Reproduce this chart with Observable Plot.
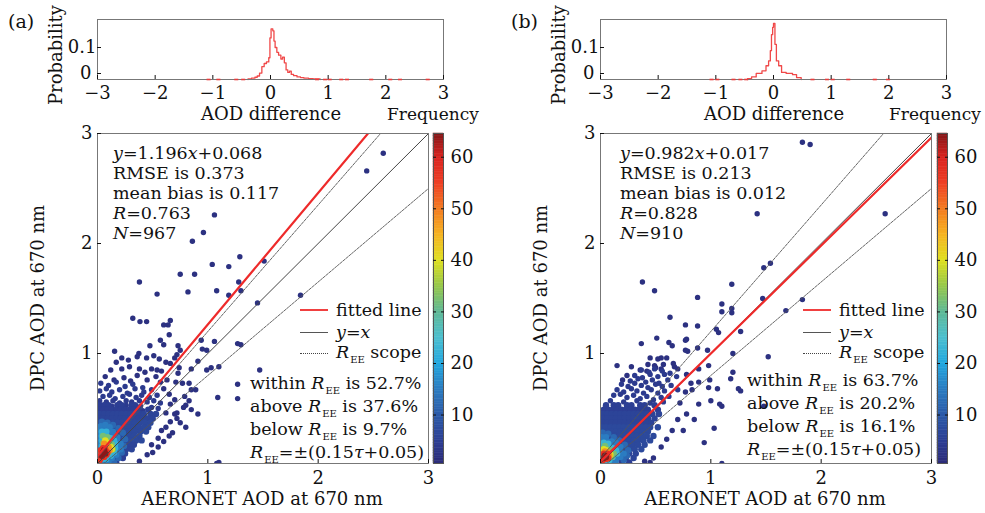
<!DOCTYPE html>
<html><head><meta charset="utf-8">
<script src="https://cdn.jsdelivr.net/npm/d3@7"></script>
<script src="https://cdn.jsdelivr.net/npm/@observablehq/plot@0.6"></script>
<style>
body{margin:0;background:#fff;}
#root{position:relative;width:985px;height:513px;overflow:hidden;font-family:"DejaVu Serif",serif;color:#111;}
#root svg{position:absolute;}
.t{position:absolute;font-size:17.5px;line-height:20px;white-space:nowrap;}
.big{font-size:18px;}
.c{transform:translate(-50%,-50%);}
.r{transform:translate(-50%,-50%) rotate(-90deg);}
.ee{font-size:10px;position:relative;top:5px;margin-left:1px;}
.lg{position:absolute;height:0;}
</style>
</head><body><div id="root"></div>
<script>
// ---------- shared scale data ----------
const colorStops = [1,5,10,15,20,25,30,35,40,45,50,55,60,65];
const colorHex = ["#2c2d7a","#2c3e94","#2b5aa8","#2b7cc1","#22a7df","#4cbfcf","#5fb996","#96c74a","#dfe020","#f6b321","#f37a20","#ee3e24","#d9231f","#7a1416"];
const colorTicks = [10,20,30,40,50,60];
const aodTicksX = [0,1,2,3];
const aodTicksY = [1,2,3];
const diffTicks = [-3,-2,-1,0,1,2,3];
const eeCoef = [0.15, 0.05];

// ---------- panel (a) ----------
const statsA = ["1.196","0.068","0.373","0.117","0.763","967"];
const fitA = [1.196, 0.068];
const eeShareA = ["52.7","37.6","9.7"];
const histEdgesA = [-0.39,-0.33,-0.27,-0.23,-0.19,-0.15,-0.11,-0.07,-0.03,-0.01,0.01,0.04,0.06,0.08,0.11,0.14,0.18,0.21,0.24,0.27,0.30,0.33,0.36,0.40,0.46,0.52,0.58,0.66,0.74,0.86];
const histProbA = [0.002,0.004,0.007,0.011,0.02,0.04,0.05,0.055,0.068,0.13,0.158,0.152,0.12,0.1,0.085,0.076,0.064,0.07,0.052,0.03,0.022,0.026,0.016,0.012,0.008,0.006,0.004,0.003,0.002];
const histTailA = [-1.1,-0.93,-0.62,-0.5,0.78,0.92,1.0,1.2,1.3,1.72,2.05,2.22,2.7];
const outA = [[2.59,2.82],[2.44,2.66],[1.06,2.26],[0.96,2.10],[0.86,2.02],[1.51,1.84],[1.29,1.88],[1.04,1.81],[1.19,1.79],[0.75,1.72],[0.88,1.72],[0.38,1.65],[1.28,1.65],[0.54,1.54],[0.82,1.56],[1.08,1.57],[1.19,1.53],[1.30,1.57],[1.84,1.53],[1.45,1.46],
[0.32,1.32],[0.385,1.29],[0.445,1.29],[0.60,1.26],[0.64,1.26],[0.66,1.30],[0.65,1.17],[0.57,1.12],[0.60,1.08],[0.475,1.07],[0.73,1.07],[0.75,1.03],[0.94,1.12],[1.06,1.11],[1.27,1.09],[1.30,1.08],
[0.155,1.02],[0.375,1.0],[0.36,0.97],[0.22,0.96],[0.28,0.94],[0.17,0.92],[0.445,0.96],[0.51,0.98],[0.56,0.95],[0.62,0.92],[0.66,0.91],[0.72,0.99],[0.70,0.96],[0.95,1.04],[0.99,1.03],[0.91,0.93],
[0.12,0.85],[0.22,0.86],[0.29,0.88],[0.38,0.86],[0.43,0.83],[0.49,0.86],[0.54,0.85],[0.58,0.84],[0.74,0.87],[0.73,0.82],[0.85,0.86],[0.99,0.85],[1.03,0.87],[1.10,0.88],[1.47,0.85],
[0.83,0.73],[0.89,0.67],[1.27,0.72],[1.09,0.60],[1.27,0.59],[0.79,0.61],[0.83,0.57],[0.80,0.53],[0.62,0.46],[0.66,0.54],[0.72,0.46],[0.85,0.49],[0.91,0.45],[0.75,0.37],[0.80,0.33],[0.72,0.41],[0.70,0.45],[0.66,0.38],[0.62,0.33],[0.58,0.30],[0.68,0.28],[0.78,0.51],[0.55,0.23],[0.49,0.17],[0.50,0.10],[1.08,0.0],[1.10,0.01],
[0.07,0.79],[0.15,0.76],[0.24,0.78],[0.30,0.75],[0.36,0.80],[0.45,0.76],[0.53,0.79],[0.57,0.74],[0.63,0.76],[0.71,0.74],[0.77,0.73],[0.85,0.67],[0.60,0.68],[0.65,0.63],[0.70,0.58],[0.60,0.20],[0.65,0.25],[0.55,0.15],[0.45,0.08],[0.38,0.02]];
const looseA = [[0.03,0.73],[0.10,0.71],[0.17,0.74],[0.25,0.70],[0.32,0.72],[0.41,0.69],[0.02,0.66],[0.08,0.68],[0.13,0.65],[0.20,0.67],[0.27,0.64],[0.34,0.68],[0.42,0.65],[0.49,0.67],[0.05,0.61],[0.11,0.62],[0.16,0.59],[0.23,0.61],[0.29,0.63],[0.35,0.60],[0.40,0.62],[0.47,0.60],[0.54,0.62],[0.02,0.57],[0.08,0.56],[0.14,0.57],[0.20,0.55],[0.26,0.57],[0.31,0.56],[0.38,0.57],[0.45,0.56],[0.51,0.57],[0.57,0.55],[0.13,0.52],[0.26,0.53],[0.39,0.52],[0.49,0.51],[0.55,0.50],[0.41,0.48]];
const massRowsA = [
[0.53,5,[0.02,0.06,0.10,0.18,0.22,0.31,0.34]],
[0.49,5,[0.01,0.05,0.09,0.13,0.17,0.21,0.25,0.29,0.33,0.37,0.46]],
[0.45,6,[0.02,0.06,0.10,0.14,0.18,0.22,0.26,0.30,0.34,0.38,0.42,0.48,0.53]],
[0.41,6,[0.01,0.05,0.09,0.13,0.17,0.21,0.25,0.29,0.33,0.37,0.41,0.45,0.50]],
[0.37,7,[0.02,0.06,0.10,0.14,0.18,0.22,0.26,0.30,0.34,0.38,0.43,0.48]],
[0.33,7,[0.01,0.05,0.09,0.13,0.17,0.21,0.25,0.29,0.33,0.37,0.42,0.46]],
[0.29,7,[0.02,0.06,0.10,0.14,0.18,0.22,0.26,0.30,0.34,0.39,0.44]],
[0.25,7,[0.01,0.05,0.09,0.13,0.17,0.21,0.25,0.29,0.33,0.38]],
[0.21,7,[0.02,0.06,0.10,0.14,0.18,0.22,0.26,0.30,0.35,0.40]],
[0.17,6,[0.01,0.05,0.09,0.13,0.17,0.21,0.25,0.29,0.33]],
[0.13,6,[0.02,0.06,0.10,0.14,0.18,0.22,0.26,0.31]],
[0.09,6,[0.01,0.05,0.09,0.13,0.17,0.21,0.25]],
[0.05,5,[0.02,0.06,0.10,0.14,0.18,0.23]],
[0.01,5,[0.03,0.07,0.12,0.17]]];
const coreA = [
[12,[[0.04,0.38],[0.09,0.37],[0.14,0.35],[0.19,0.32],[0.23,0.28],[0.25,0.22],[0.24,0.16],[0.22,0.10],[0.19,0.05],[0.15,0.01]]],
[15,[[0.03,0.34],[0.07,0.35],[0.11,0.33],[0.02,0.30],[0.06,0.30],[0.10,0.30],[0.14,0.29],[0.02,0.26],[0.06,0.26],[0.10,0.26],[0.14,0.25],[0.18,0.24],[0.02,0.22],[0.06,0.22],[0.10,0.22],[0.14,0.21],[0.18,0.20],[0.21,0.18],[0.02,0.18],[0.06,0.18],[0.10,0.18],[0.14,0.17],[0.18,0.16],[0.21,0.13],[0.02,0.14],[0.06,0.14],[0.10,0.14],[0.14,0.13],[0.18,0.12],[0.02,0.10],[0.06,0.10],[0.10,0.10],[0.14,0.09],[0.17,0.08],[0.02,0.06],[0.06,0.06],[0.10,0.06],[0.13,0.05],[0.03,0.02],[0.07,0.02],[0.10,0.02]]],
[22,[[0.04,0.29],[0.08,0.29],[0.04,0.25],[0.08,0.25],[0.12,0.23],[0.15,0.21],[0.04,0.21],[0.08,0.21],[0.12,0.19],[0.16,0.18],[0.04,0.16],[0.08,0.16],[0.12,0.15],[0.16,0.14],[0.05,0.12],[0.09,0.12],[0.13,0.11],[0.15,0.10],[0.04,0.08],[0.08,0.08],[0.12,0.07],[0.04,0.04],[0.08,0.04]]],
[32,[[0.05,0.25],[0.09,0.24],[0.07,0.22],[0.11,0.20],[0.13,0.17],[0.05,0.19],[0.09,0.17],[0.14,0.13],[0.05,0.15],[0.10,0.10],[0.03,0.08]]],
[40,[[0.07,0.21],[0.09,0.19],[0.12,0.15],[0.13,0.13]]],
[48,[[0.06,0.18],[0.08,0.16],[0.10,0.15],[0.11,0.12]]],
[57,[[0.03,0.12],[0.05,0.14],[0.07,0.13],[0.04,0.09],[0.06,0.10],[0.09,0.10],[0.03,0.05],[0.06,0.06],[0.08,0.08],[0.02,0.03]]],
[64,[[0.05,0.10],[0.04,0.07],[0.06,0.12],[0.07,0.09]]]];

// ---------- panel (b) ----------
const statsB = ["0.982","0.017","0.213","0.012","0.828","910"];
const fitB = [0.982, 0.017];
const eeShareB = ["63.7","20.2","16.1"];
const histEdgesB = [-0.45,-0.38,-0.30,-0.20,-0.13,-0.085,-0.055,-0.035,-0.015,0.0,0.025,0.05,0.09,0.14,0.22,0.33,0.40,0.48];
const histProbB = [0.003,0.008,0.019,0.027,0.043,0.058,0.09,0.14,0.163,0.175,0.11,0.058,0.043,0.022,0.019,0.015,0.006];
const histTailB = [-1.1,-1.0,-0.72,-0.6,-0.5,0.65,0.9,1.0,1.27,1.73,1.96];
const outB = [[1.83,2.92],[1.90,2.90],[1.42,2.27],[2.58,2.27],[1.54,1.82],[1.48,1.78],[0.38,1.65],[0.49,1.57],[1.19,1.63],[0.88,1.51],[1.47,1.50],[1.83,1.49],[1.10,1.45],[1.19,1.41],[1.19,1.37],[1.10,1.38],[1.68,1.39],[0.63,1.33],
[0.77,1.26],[0.88,1.25],[1.05,1.22],[1.07,1.19],[1.27,1.20],[0.37,1.09],[0.78,1.13],[0.79,1.02],[0.97,1.03],[0.98,0.89],[1.20,1.00],[1.20,0.83],[1.52,0.97],[0.89,0.74],[0.98,0.69],[1.0,0.57],[1.27,0.66],[1.10,0.52],[1.48,0.52],[1.03,0.32],[0.94,0.19],[1.10,0.0],[0.51,1.14],
[0.62,1.10],[0.65,1.07],[0.77,1.12],[0.77,1.03],[0.88,1.05],[0.15,0.89],[0.45,0.96],[0.52,0.95],[0.55,0.96],[0.60,0.96],[0.43,0.90],[0.49,0.89],[0.57,0.90],[0.66,0.91],[0.67,0.88],[0.36,0.85],[0.42,0.84],[0.50,0.87],[0.55,0.86],[0.70,0.86],[0.78,0.81],[0.89,0.86],[0.99,0.76],[1.06,0.68],[1.08,0.54],[0.89,0.54],[1.25,0.68],[1.18,0.77],[0.82,0.73],[0.77,0.65],[0.83,0.67],
[0.72,0.55],[0.78,0.45],[0.70,0.40],[0.65,0.30],[0.60,0.22],[0.55,0.15],[0.75,0.30],[0.48,0.05],[0.40,0.02],[0.85,0.40],[0.28,0.88],[0.24,0.80],[0.20,0.76],[0.45,0.01]];
const looseB = [[0.37,0.85],[0.44,0.83],[0.49,0.86],[0.56,0.84],[0.63,0.82],[0.31,0.80],[0.38,0.78],[0.45,0.81],[0.52,0.79],[0.58,0.81],[0.69,0.79],[0.27,0.75],[0.34,0.77],[0.41,0.74],[0.47,0.76],[0.53,0.73],[0.61,0.76],[0.19,0.72],[0.25,0.70],[0.31,0.73],[0.37,0.71],[0.43,0.69],[0.50,0.72],[0.56,0.70],[0.64,0.71],[0.15,0.67],[0.21,0.65],[0.28,0.68],[0.33,0.66],[0.39,0.64],[0.46,0.67],[0.52,0.64],[0.58,0.66],[0.70,0.67],[0.12,0.62],[0.18,0.63],[0.24,0.60],[0.30,0.62],[0.36,0.59],[0.42,0.61],[0.48,0.58],[0.55,0.60],[0.62,0.61],[0.09,0.57],[0.21,0.56],[0.33,0.57],[0.45,0.55],[0.57,0.56]];
const massRowsB = [
[0.53,5,[0.05,0.12,0.16,0.24,0.28,0.36,0.40,0.49]],
[0.49,5,[0.03,0.07,0.11,0.15,0.19,0.23,0.27,0.31,0.35,0.39,0.43,0.52]],
[0.45,6,[0.02,0.06,0.10,0.14,0.18,0.22,0.26,0.30,0.34,0.38,0.42,0.47,0.53]],
[0.41,6,[0.02,0.06,0.10,0.14,0.18,0.22,0.26,0.30,0.34,0.38,0.43,0.49]],
[0.37,6,[0.02,0.06,0.10,0.14,0.18,0.22,0.26,0.30,0.34,0.38,0.42,0.46]],
[0.33,7,[0.01,0.05,0.09,0.13,0.17,0.21,0.25,0.29,0.33,0.37,0.41,0.45,0.52]],
[0.29,7,[0.02,0.06,0.10,0.14,0.18,0.22,0.26,0.30,0.34,0.38,0.43]],
[0.25,7,[0.01,0.05,0.09,0.13,0.17,0.21,0.25,0.29,0.33,0.37,0.42,0.48]],
[0.21,7,[0.02,0.06,0.10,0.14,0.18,0.22,0.26,0.30,0.34,0.39,0.45]],
[0.17,7,[0.01,0.05,0.09,0.13,0.17,0.21,0.25,0.29,0.34,0.40]],
[0.13,7,[0.02,0.06,0.10,0.14,0.18,0.22,0.26,0.31,0.37]],
[0.09,6,[0.01,0.05,0.09,0.13,0.17,0.21,0.26,0.32]],
[0.05,6,[0.02,0.06,0.10,0.14,0.18,0.23,0.30]],
[0.01,5,[0.04,0.08,0.13,0.19,0.26]]];
const coreB = [
[12,[[0.02,0.28],[0.07,0.27],[0.12,0.24],[0.17,0.21],[0.22,0.17],[0.25,0.12],[0.24,0.07],[0.21,0.03]]],
[15,[[0.01,0.24],[0.05,0.24],[0.02,0.20],[0.06,0.20],[0.10,0.20],[0.14,0.19],[0.02,0.16],[0.06,0.16],[0.10,0.16],[0.14,0.15],[0.18,0.15],[0.02,0.12],[0.06,0.12],[0.10,0.12],[0.14,0.11],[0.18,0.10],[0.21,0.09],[0.02,0.08],[0.06,0.08],[0.10,0.08],[0.14,0.07],[0.18,0.06],[0.02,0.04],[0.06,0.04],[0.10,0.04],[0.14,0.03],[0.03,0.01],[0.07,0.01],[0.11,0.01]]],
[23,[[0.03,0.19],[0.07,0.18],[0.03,0.15],[0.07,0.15],[0.11,0.14],[0.14,0.12],[0.03,0.11],[0.07,0.11],[0.11,0.10],[0.15,0.09],[0.03,0.07],[0.07,0.07],[0.11,0.06],[0.04,0.03],[0.08,0.03]]],
[32,[[0.04,0.16],[0.02,0.13],[0.06,0.13],[0.09,0.12],[0.12,0.09],[0.04,0.10],[0.08,0.09],[0.10,0.06],[0.03,0.04],[0.06,0.05]]],
[40,[[0.03,0.13],[0.05,0.12],[0.09,0.08],[0.02,0.09]]],
[48,[[0.04,0.11],[0.07,0.10],[0.08,0.07],[0.02,0.06]]],
[57,[[0.03,0.09],[0.05,0.08],[0.06,0.09],[0.04,0.06],[0.06,0.06],[0.02,0.03],[0.05,0.04],[0.07,0.05]]],
[64,[[0.04,0.07],[0.05,0.06],[0.03,0.05]]]];

// ---------- build ----------
const root = document.getElementById("root");
const font = {fontFamily:"'DejaVu Serif', serif", fontSize:"18px", background:"transparent", color:"#111", overflow:"visible"};
const color = {type:"linear", domain: colorStops, range: colorHex, clamp: true};
const intFmt = d => String(d);
function put(el, left, top){ el.style.left = left + "px"; el.style.top = top + "px"; root.appendChild(el); }
function html(s, left, top, cls){ const d = document.createElement("div"); d.className = "t " + (cls||""); d.innerHTML = s; put(d, left, top); return d; }

function histogram(edges, probs, tails){
  const steps = [{x: edges[0], p: 0}, ...edges.map((e, i) => ({x: e, p: i < probs.length ? probs[i] : 0}))];
  return Plot.plot({
    width: 490, height: 125, marginLeft: 97, marginRight: 47, marginTop: 19, marginBottom: 46,
    style: font,
    x: {domain: [-3, 3]}, y: {domain: [0, 0.1875]},
    marks: [
      Plot.line(steps, {x: "x", y: "p", curve: "step-after", stroke: "#f04848", strokeWidth: 1.3}),
      Plot.frame({stroke: "#777"}),
      Plot.ruleY(tails, {x1: d => d, x2: d => d + 0.07, y: 0, stroke: "#e83c3c", strokeWidth: 1.6}),
      Plot.axisX(diffTicks, {tickSize: -4, tickPadding: 11, label: null}),
      Plot.axisY([0.1], {tickSize: -4, tickPadding: 5, label: null, tickFormat: () => "0.1"}),
      Plot.axisY([0], {tickSize: -4, tickPadding: 10, dy: -6, label: null, tickFormat: () => "0"})
    ]
  });
}

function scatter(out, loose, massRows, core, fit){
  const sparse = [
    ...out.map(([x, y]) => ({x, y, f: 2})),
    ...loose.map(([x, y]) => ({x, y, f: 4}))
  ];
  const dense = [
    ...massRows.flatMap(([y, f, xs]) => xs.map(x => ({x, y, f}))),
    ...core.flatMap(([f, list]) => list.map(([x, y]) => ({x, y, f})))
  ];
  const ends = [0, 3];
  const fitLine = ends.map(x => ({x, y: fit[0] * x + fit[1]}));
  const idLine = ends.map(x => ({x, y: x}));
  const upLine = ends.map(x => ({x, y: x + eeCoef[0] * x + eeCoef[1]}));
  const loLine = ends.map(x => ({x, y: x - eeCoef[0] * x - eeCoef[1]}));
  return Plot.plot({
    width: 490, height: 388, marginLeft: 97, marginRight: 62, marginTop: 8, marginBottom: 50,
    style: font, color,
    x: {domain: [0, 3]}, y: {domain: [0, 3]},
    marks: [
      Plot.dot(sparse, {x: "x", y: "y", fill: "f", r: 2.7, clip: true}),
      Plot.dot(dense, {x: "x", y: "y", fill: "f", r: 3.2, clip: true}),
      Plot.line(upLine, {x: "x", y: "y", stroke: "#555", strokeWidth: 0.9, strokeDasharray: "2.5,1.2", clip: true}),
      Plot.line(loLine, {x: "x", y: "y", stroke: "#555", strokeWidth: 0.9, strokeDasharray: "2.5,1.2", clip: true}),
      Plot.line(idLine, {x: "x", y: "y", stroke: "#444", strokeWidth: 1, clip: true}),
      Plot.line(fitLine, {x: "x", y: "y", stroke: "#ee2a2a", strokeWidth: 2.2, clip: true}),
      Plot.frame({stroke: "#777"}),
      Plot.axisX(aodTicksX, {tickSize: -4, tickPadding: 12, label: null, tickFormat: intFmt}),
      Plot.axisY(aodTicksY, {tickSize: -4, tickPadding: 9, label: null, tickFormat: intFmt})
    ]
  });
}

function colorbar(){
  const levels = d3.range(0.6, 64.6, 0.5);
  return Plot.plot({
    width: 70, height: 388, marginLeft: 8, marginRight: 52, marginTop: 8, marginBottom: 50,
    style: font, color,
    x: {domain: [0, 1], axis: null}, y: {domain: [0.6, 64.6]},
    marks: [
      Plot.rect(levels, {x1: 0, x2: 1, y1: d => d, y2: d => d + 0.5, fill: d => d + 0.25, stroke: d => d + 0.25, strokeWidth: 0.5}),
      Plot.frame({stroke: "#555"}),
      Plot.axisY(colorTicks, {anchor: "left", tickSize: -3, tickFormat: () => "", label: null}),
      Plot.axisY(colorTicks, {anchor: "right", tickSize: -3, tickPadding: 10, label: null, tickFormat: intFmt})
    ]
  });
}

const EE = '<i>R</i><span class="ee">EE</span>';
function panel(off, tag, stats, fit, share, edges, probs, tails, out, loose, massRows, core){
  put(histogram(edges, probs, tails), off, 0);
  put(scatter(out, loose, massRows, core, fit), off, 125);
  put(colorbar(), off + 425 + (off ? 1 : 0), 125);
  html(tag, off + 8, 11, "big").style.fontSize = "19px";
  html("Probability", off + 56, 55, "r big");
  html("AOD difference", off + 271, 114, "c big");
  const fq = html("Frequency", off === 0 ? 387 : off + 386, 104);
  fq.style.fontSize = "17px";
  html("DPC AOD at 670 nm", off + 38, 298, "r big");
  html("AERONET AOD at 670 nm", off + 262, 499, "c big");
  const sx = off === 0 ? 113 : off + 117;
  html(`<i>y</i>=${stats[0]}<i>x</i>+${stats[1]}<br>RMSE is ${stats[2]}<br>mean bias is ${stats[3]}<br><i>R</i>=${stats[4]}<br><i>N</i>=${stats[5]}`, sx, 143);
  const lx = off === 0 ? 300 : off + 300;
  const l1 = document.createElement("div"); l1.className = "lg"; l1.style.width = "28px"; l1.style.borderTop = "2px solid #f04040"; put(l1, lx, 309);
  const l2 = document.createElement("div"); l2.className = "lg"; l2.style.width = "28px"; l2.style.borderTop = "1px solid #555"; put(l2, lx, 332);
  const l3 = document.createElement("div"); l3.className = "lg"; l3.style.width = "28px"; l3.style.borderTop = "1px dotted #444"; put(l3, lx, 353);
  html("fitted line", lx + 36, 300);
  html("<i>y</i>=<i>x</i>", lx + 36, 322);
  html(`${EE} scope`, lx + 36, 342);
  const ex = off === 0 ? 250 : off + 244;
  html(`within ${EE} is ${share[0]}%<br>above ${EE} is ${share[1]}%<br>below ${EE} is ${share[2]}%<br>${EE}=±(${eeCoef[0]}<i>τ</i>+${eeCoef[1]})`, ex, off === 0 ? 373 : 370);
}

panel(0, "(a)", statsA, fitA, eeShareA, histEdgesA, histProbA, histTailA, outA, looseA, massRowsA, coreA);
panel(503, "(b)", statsB, fitB, eeShareB, histEdgesB, histProbB, histTailB, outB, looseB, massRowsB, coreB);
</script>
</body></html>
